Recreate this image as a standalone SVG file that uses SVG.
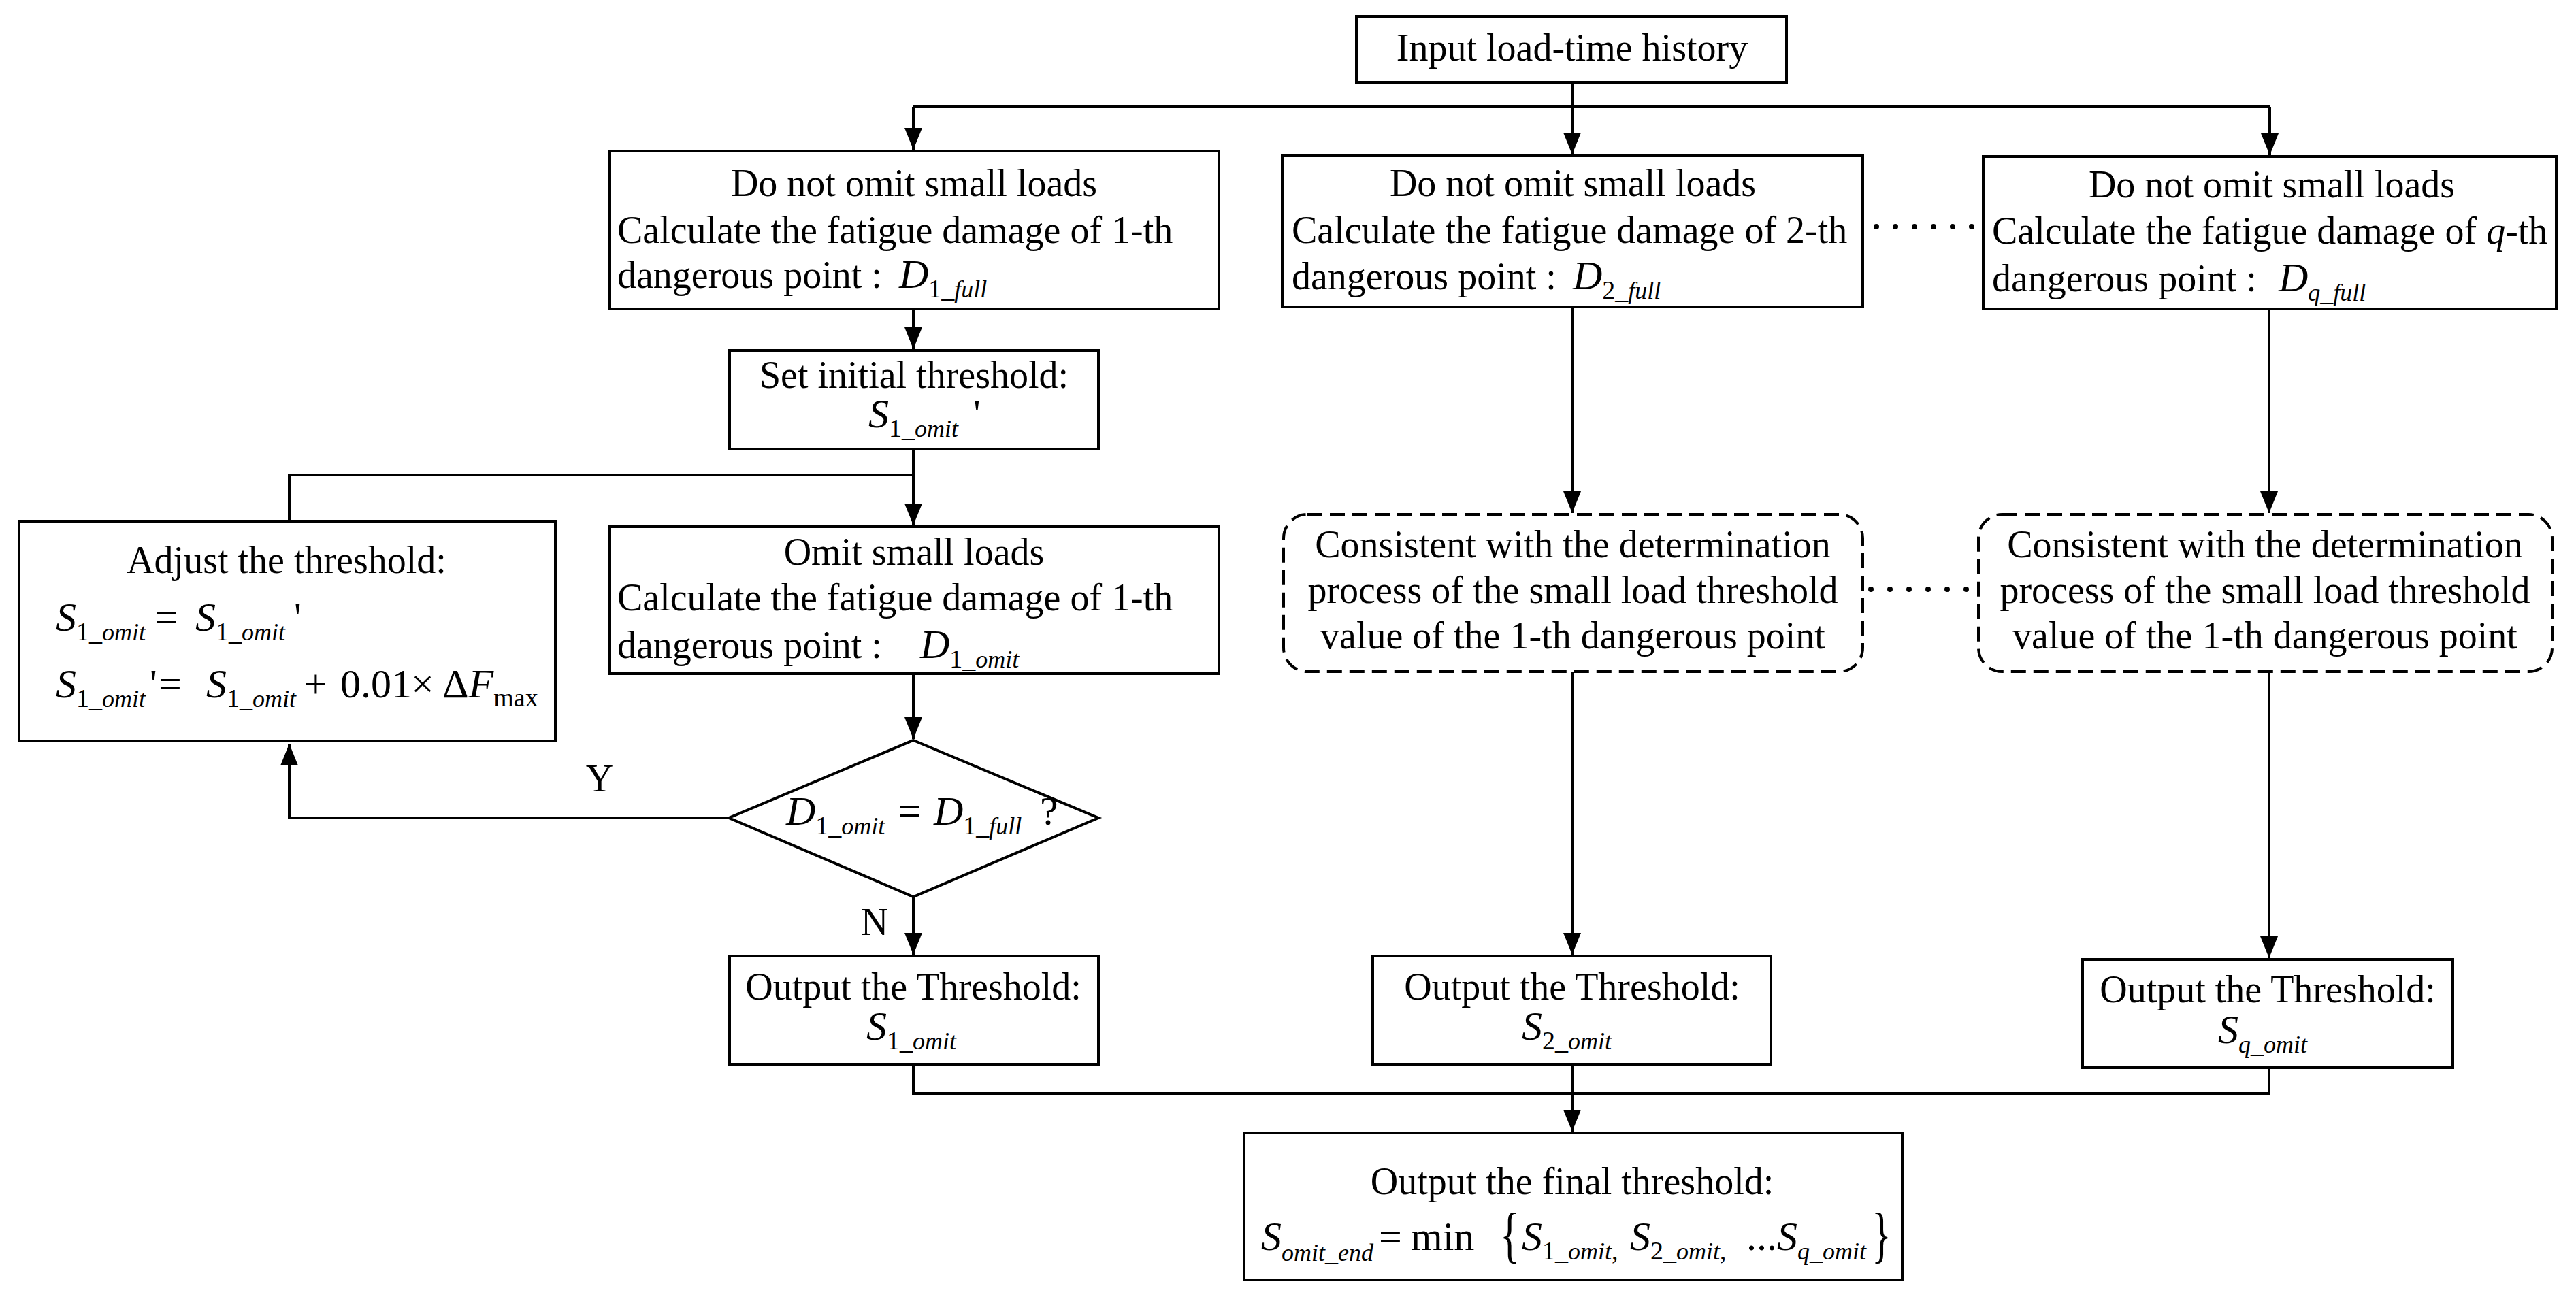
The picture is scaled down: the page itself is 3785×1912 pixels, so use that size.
<svg xmlns="http://www.w3.org/2000/svg" width="3785" height="1912" viewBox="0 0 3785 1912">
<style>
.bg{fill:#fff}
.box{fill:#fff;stroke:#000;stroke-width:4}
.dbox{fill:#fff;stroke:#000;stroke-width:4;stroke-dasharray:22 11}
.ln{fill:none;stroke:#000;stroke-width:4}
.dot{fill:none;stroke:#000;stroke-width:8;stroke-linecap:round;stroke-dasharray:0 28}
text{font-family:"Liberation Serif","Times New Roman",serif;font-size:56px;fill:#000}
.c{text-anchor:middle}
.m{font-style:italic;font-size:60px}
.u{font-size:60px}
.s{font-size:38px}
.si{font-size:36px;font-style:italic}
</style>
<defs>
<marker id="ah" markerUnits="userSpaceOnUse" markerWidth="34" markerHeight="28" refX="32" refY="13" orient="auto">
<path d="M0,0 L32,13 L0,26 Z" fill="#000"/>
</marker>
</defs>
<rect class="bg" x="0" y="0" width="3785" height="1912"/>

<g id="connectors">
<path class="ln" d="M2310,121 V157"/>
<path class="ln" d="M1342,157 H3335"/>
<path class="ln" d="M1342,157 V220" marker-end="url(#ah)"/>
<path class="ln" d="M2310,157 V227" marker-end="url(#ah)"/>
<path class="ln" d="M3335,157 V228" marker-end="url(#ah)"/>
<path class="ln" d="M1342,454 V513" marker-end="url(#ah)"/>
<path class="ln" d="M1342,660 V772" marker-end="url(#ah)"/>
<path class="ln" d="M425,766 V698 H1342"/>
<path class="ln" d="M1342,990 V1086" marker-end="url(#ah)"/>
<path class="ln" d="M1071,1202 H425 V1093" marker-end="url(#ah)"/>
<path class="ln" d="M1342,1318 V1403" marker-end="url(#ah)"/>
<path class="ln" d="M2310,451 V754" marker-end="url(#ah)"/>
<path class="ln" d="M3334,454 V754" marker-end="url(#ah)"/>
<path class="ln" d="M2310,987 V1403" marker-end="url(#ah)"/>
<path class="ln" d="M3334,987 V1408" marker-end="url(#ah)"/>
<path class="ln" d="M1342,1564 V1607 H3334 V1569"/>
<path class="ln" d="M2310,1564 V1663" marker-end="url(#ah)"/>
<path class="dot" d="M2757,333 H2905"/>
<path class="dot" d="M2749,866 H2897"/>
<text x="881" y="1163" class="c">Y</text>
<text x="1285" y="1374" class="c">N</text>
</g>

<g id="input">
<rect class="box" x="1993" y="24" width="632" height="97"/>
<text x="2310" y="89" class="c">Input load-time history</text>
</g>

<g id="full1">
<rect class="box" x="896" y="222" width="895" height="232"/>
<text x="1343" y="288" class="c">Do not omit small loads</text>
<text x="907" y="357">Calculate the fatigue damage of 1-th</text>
<text x="907" y="423">dangerous point :</text>
<text x="1321" y="423"><tspan class="m">D</tspan><tspan class="s" dy="14">1_</tspan><tspan class="si">full</tspan></text>
</g>

<g id="full2">
<rect class="box" x="1884" y="229" width="853" height="222"/>
<text x="2311" y="288" class="c">Do not omit small loads</text>
<text x="1898" y="357">Calculate the fatigue damage of 2-th</text>
<text x="1898" y="425">dangerous point :</text>
<text x="2311" y="425"><tspan class="m">D</tspan><tspan class="s" dy="14">2_</tspan><tspan class="si">full</tspan></text>
</g>

<g id="fullq">
<rect class="box" x="2914" y="230" width="842" height="224"/>
<text x="3338" y="290" class="c">Do not omit small loads</text>
<text x="2927" y="358">Calculate the fatigue damage of <tspan font-style="italic">q</tspan>-th</text>
<text x="2927" y="428">dangerous point :</text>
<text x="3348" y="428"><tspan class="m">D</tspan><tspan class="si" dy="14">q</tspan><tspan class="s">_</tspan><tspan class="si">full</tspan></text>
</g>

<g id="setinit">
<rect class="box" x="1072" y="515" width="542" height="145"/>
<text x="1343" y="570" class="c">Set initial threshold:</text>
<text x="1276" y="628"><tspan class="m">S</tspan><tspan class="s" dy="14">1_</tspan><tspan class="si">omit</tspan><tspan class="u" x="1430" dy="-14">'</tspan></text>
</g>

<g id="adjust">
<rect class="box" x="28" y="766" width="788" height="323"/>
<text x="421" y="842" class="c">Adjust the threshold:</text>
<text x="82" y="927"><tspan class="m">S</tspan><tspan class="s" dy="14">1_</tspan><tspan class="si">omit</tspan><tspan class="u" x="228" dy="-14">=</tspan><tspan class="m" x="287">S</tspan><tspan class="s" dy="14">1_</tspan><tspan class="si">omit</tspan><tspan class="u" x="432" dy="-14">'</tspan></text>
<text x="82" y="1025"><tspan class="m">S</tspan><tspan class="s" dy="14">1_</tspan><tspan class="si">omit</tspan><tspan class="u" x="220" dy="-14">'</tspan><tspan class="u" x="233">=</tspan><tspan class="m" x="303">S</tspan><tspan class="s" dy="14">1_</tspan><tspan class="si">omit</tspan><tspan class="u" x="447" dy="-14">+</tspan><tspan class="u" x="500">0.01</tspan><tspan class="u" x="604">×</tspan><tspan class="u" x="650">Δ</tspan><tspan class="m">F</tspan><tspan class="s" dy="13">max</tspan></text>
</g>

<g id="omit1">
<rect class="box" x="896" y="774" width="895" height="216"/>
<text x="1343" y="830" class="c">Omit small loads</text>
<text x="907" y="897">Calculate the fatigue damage of 1-th</text>
<text x="907" y="967">dangerous point :</text>
<text x="1352" y="967"><tspan class="m">D</tspan><tspan class="s" dy="14">1_</tspan><tspan class="si">omit</tspan></text>
</g>

<g id="decision">
<polygon class="box" points="1342,1088 1614,1202 1342,1318 1071,1202"/>
<text x="1155" y="1212"><tspan class="m">D</tspan><tspan class="s" dy="14">1_</tspan><tspan class="si">omit</tspan><tspan class="u" x="1320" dy="-14">=</tspan><tspan class="m" x="1372">D</tspan><tspan class="s" dy="14">1_</tspan><tspan class="si">full</tspan><tspan class="u" x="1528" dy="-14">?</tspan></text>
</g>

<g id="cons2">
<rect class="dbox" x="1886" y="756" width="851" height="231" rx="35" ry="35"/>
<text x="2311" y="819" class="c">Consistent with the determination</text>
<text x="2311" y="886" class="c">process of the small load threshold</text>
<text x="2311" y="953" class="c">value of the 1-th dangerous point</text>
</g>

<g id="consq">
<rect class="dbox" x="2907" y="756" width="843" height="231" rx="35" ry="35"/>
<text x="3328" y="819" class="c">Consistent with the determination</text>
<text x="3328" y="886" class="c">process of the small load threshold</text>
<text x="3328" y="953" class="c">value of the 1-th dangerous point</text>
</g>

<g id="out1">
<rect class="box" x="1072" y="1405" width="542" height="159"/>
<text x="1342" y="1469" class="c">Output the Threshold:</text>
<text x="1273" y="1528"><tspan class="m">S</tspan><tspan class="s" dy="14">1_</tspan><tspan class="si">omit</tspan></text>
</g>

<g id="out2">
<rect class="box" x="2017" y="1405" width="585" height="159"/>
<text x="2310" y="1469" class="c">Output the Threshold:</text>
<text x="2236" y="1528"><tspan class="m">S</tspan><tspan class="s" dy="14">2_</tspan><tspan class="si">omit</tspan></text>
</g>

<g id="outq">
<rect class="box" x="3060" y="1410" width="544" height="159"/>
<text x="3332" y="1473" class="c">Output the Threshold:</text>
<text x="3259" y="1533"><tspan class="m">S</tspan><tspan class="si" dy="14">q</tspan><tspan class="s">_</tspan><tspan class="si">omit</tspan></text>
</g>

<g id="final">
<rect class="box" x="1828" y="1665" width="967" height="216"/>
<text x="2310" y="1755" class="c">Output the final threshold:</text>
<text x="1853" y="1837"><tspan class="m">S</tspan><tspan class="si" dy="16">omit</tspan><tspan class="s">_</tspan><tspan class="si">end</tspan><tspan class="u" x="2026" dy="-16">=</tspan><tspan x="2073" class="u">min</tspan></text>
<text transform="translate(2204,1845) scale(1,1.5)" class="u">{</text>
<text x="2236" y="1837"><tspan class="m">S</tspan><tspan class="s" dy="14">1_</tspan><tspan class="si">omit</tspan><tspan class="s">,</tspan><tspan class="m" x="2395" dy="-14">S</tspan><tspan class="s" dy="14">2_</tspan><tspan class="si">omit</tspan><tspan class="s">,</tspan><tspan class="u" x="2566" dy="-14">...</tspan><tspan class="m">S</tspan><tspan class="si" dy="14">q</tspan><tspan class="s">_</tspan><tspan class="si">omit</tspan></text>
<text transform="translate(2750,1845) scale(1,1.5)" class="u">}</text>
</g>
</svg>
